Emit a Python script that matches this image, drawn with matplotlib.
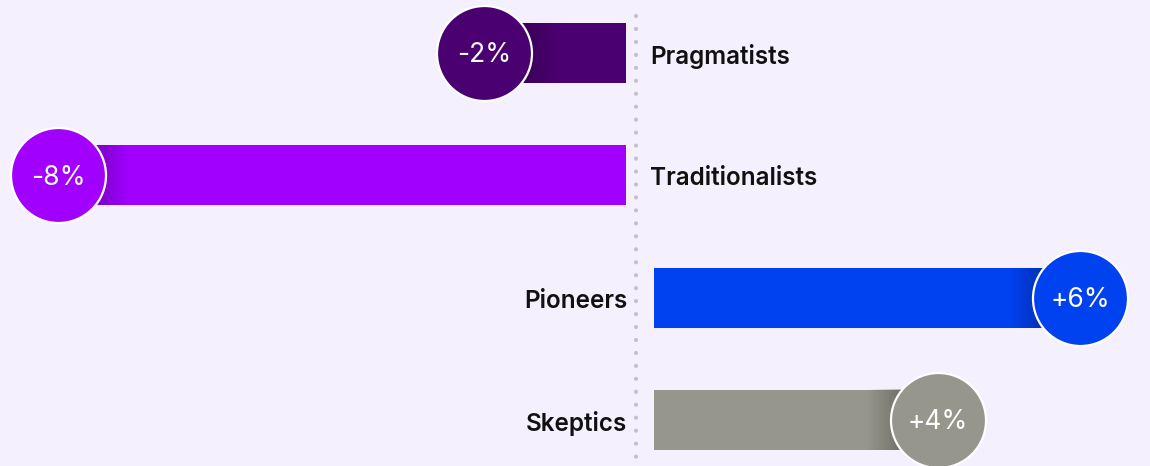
import numpy as np
import matplotlib
matplotlib.use("Agg")
import matplotlib.pyplot as plt

# ------------- Data -------------
groups = ["Pragmatists", "Traditionalists", "Pioneers", "Skeptics"]
changes = [-2, -8, 6, 4]
value_labels = ["-2%", "-8%", "+6%", "+4%"]
colors = ["#4A0070", "#A100FF", "#0041F0", "#96968C"]

# ------------- Layout config -------------
BG = "#F4F0FD"
PX_PER_UNIT = 71.0          # pixels per 1 percentage point
CENTER_PX = 636             # dotted line position
ROW_PX = 122.3              # spacing between rows
FIRST_ROW_PX = 53
W, H = 1150, 466
GAP_NEG = 10 / PX_PER_UNIT  # neg bars end a bit left of the line
GAP_POS = 18 / PX_PER_UNIT  # pos bars start a bit right of the line
R_PX = 47.5                 # bubble radius in px

fig = plt.figure(figsize=(W / 100, H / 100), dpi=100, facecolor=BG)
ax = fig.add_axes([0, 0, 1, 1], facecolor=BG)

xlim = (-CENTER_PX / PX_PER_UNIT, (W - CENTER_PX) / PX_PER_UNIT)
ylim = ((H - FIRST_ROW_PX) / ROW_PX, -FIRST_ROW_PX / ROW_PX)
bar_h = 60 / ROW_PX
r_data = R_PX / PX_PER_UNIT

# dotted centre line
ax.plot([0, 0], [-0.3, ylim[0]], color="#C2C0C8", lw=3.0,
        linestyle=(0, (0.01, 3.1)), dash_capstyle="round", zorder=1)

for i, (name, v, lab, c) in enumerate(zip(groups, changes, value_labels, colors)):
    left = -GAP_NEG if v < 0 else GAP_POS
    ax.barh(i, v, left=left, height=bar_h, color=c, zorder=2)
    cx = left + v

    # soft shadow next to the bubble, on top of the bar
    n = 64
    alpha = np.linspace(0.5, 0.0, n)
    grad = np.zeros((1, n, 4))
    grad[0, :, 3] = alpha
    ext = r_data + 24 / PX_PER_UNIT
    if v < 0:
        extent = (cx, cx + ext, i + bar_h / 2, i - bar_h / 2)
        img = grad
    else:
        extent = (cx - ext, cx, i + bar_h / 2, i - bar_h / 2)
        img = grad[:, ::-1, :]
    ax.imshow(img, extent=extent, aspect="auto", zorder=3, interpolation="bilinear")

    # bubble with value
    d_pt = 2 * R_PX * 72 / 100
    ax.scatter([cx], [i], s=d_pt ** 2, color=c, edgecolors="white",
               linewidths=1.6, zorder=4)
    ax.text(cx, i + 0.02, lab, color="white", fontsize=19, ha="center", va="center",
            family="Inter", zorder=5)

    # group label on opposite side of the line
    if v < 0:
        ax.text(14 / PX_PER_UNIT, i + 0.03, name, ha="left", va="center",
                fontsize=17.5, family="Inter", fontweight="semibold", color="#111111")
    else:
        ax.text(-9 / PX_PER_UNIT, i + 0.03, name, ha="right", va="center",
                fontsize=17.5, family="Inter", fontweight="semibold", color="#111111")

ax.set_xlim(*xlim)
ax.set_ylim(*ylim)
ax.axis("off")

fig.savefig("out.png", dpi=100, facecolor=BG)
